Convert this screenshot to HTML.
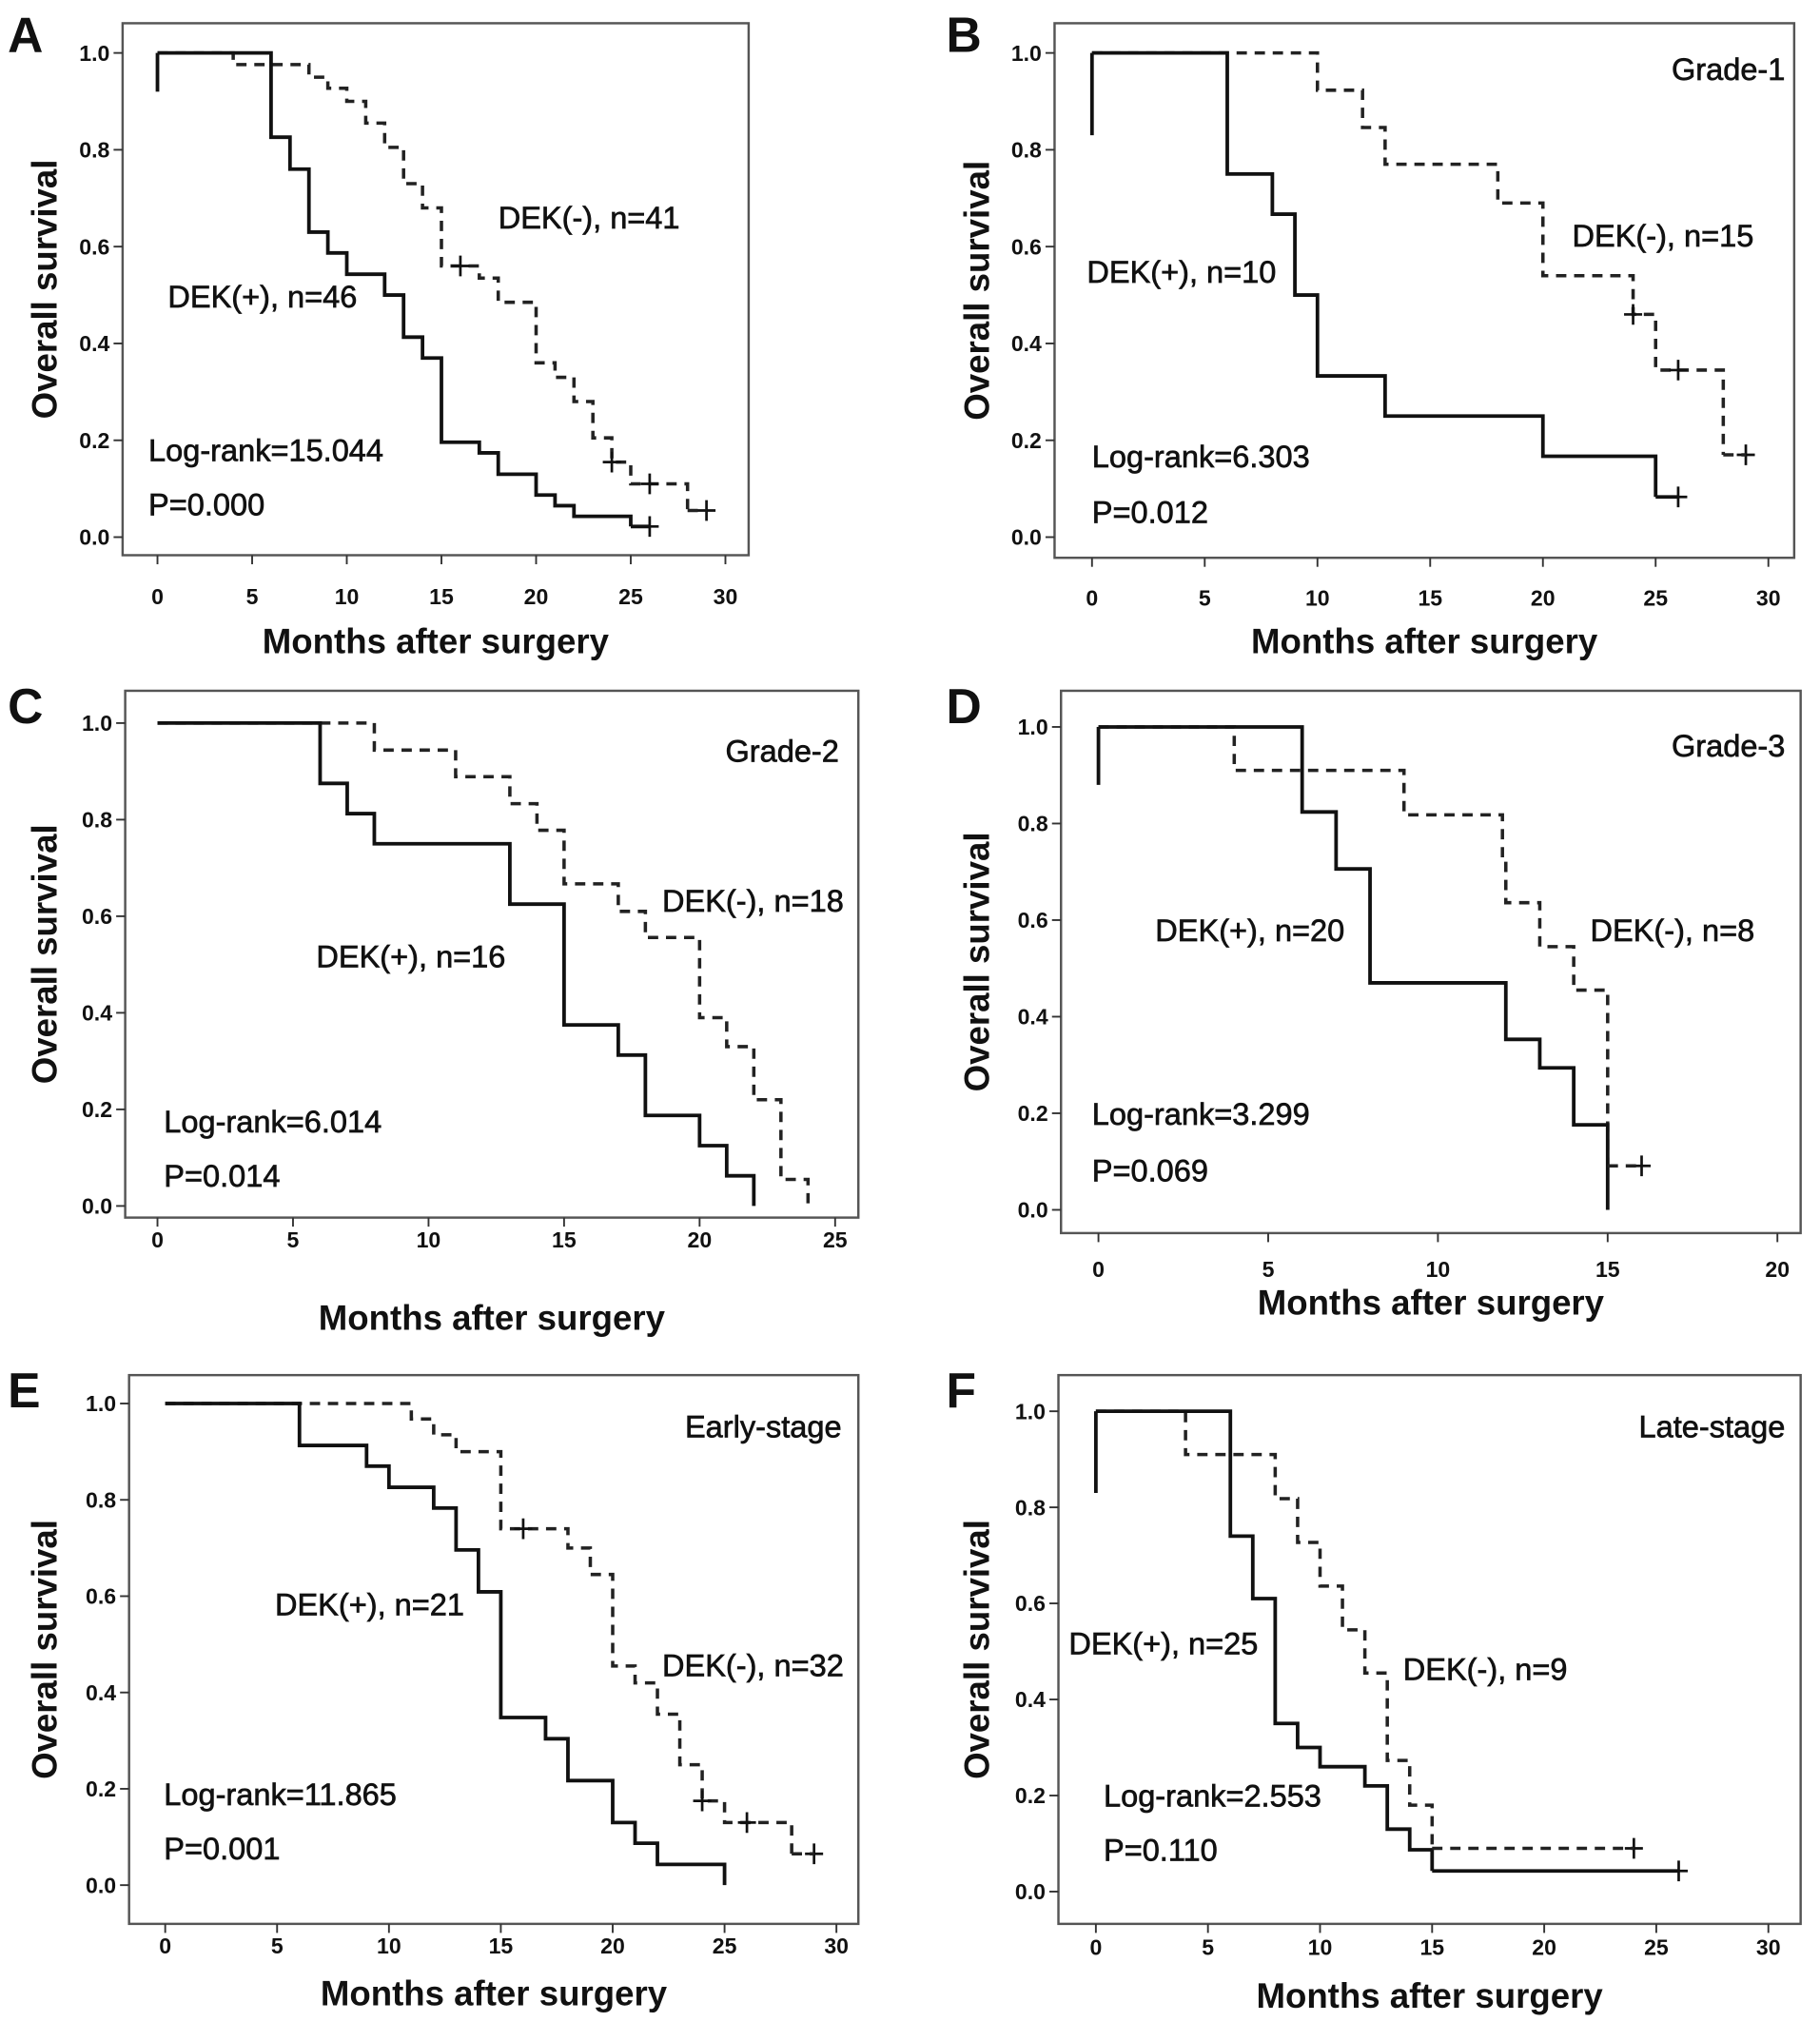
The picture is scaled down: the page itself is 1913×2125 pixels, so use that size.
<!DOCTYPE html>
<html><head><meta charset="utf-8"><style>
html,body{margin:0;padding:0;background:#fff}
svg{display:block}
text{font-family:"Liberation Sans",Arial,sans-serif;fill:#111}
</style></head><body>
<svg id="fig" width="1913" height="2125" viewBox="0 0 1410 1566" preserveAspectRatio="none"></svg>
<script>
// ---- data arrays (time in months, survival) ----
const aPosT=[0,6,7,8,9,10,12,13,14,15,17,18,20,21,22,25];
const aPosS=[1,0.826,0.76,0.63,0.587,0.543,0.5,0.413,0.37,0.196,0.174,0.13,0.087,0.065,0.043,0.022];
const aPosCT=[26], aPosCS=[0.022];
const aNegT=[0,4,8,9,10,11,12,13,14,15,17,18,20,21,22,23,24,25,28];
const aNegS=[1,0.976,0.95,0.927,0.9,0.855,0.805,0.73,0.68,0.56,0.535,0.485,0.36,0.33,0.28,0.205,0.155,0.11,0.055];
const aNegCT=[16,24,26,29], aNegCS=[0.56,0.155,0.11,0.055];

const bPosT=[0,6,8,9,10,13,20,25];
const bPosS=[1,0.75,0.667,0.5,0.333,0.25,0.167,0.083];
const bPosCT=[26], bPosCS=[0.083];
const bNegT=[0,10,12,13,18,20,24,25,28];
const bNegS=[1,0.923,0.846,0.77,0.69,0.54,0.46,0.345,0.17];
const bNegCT=[24,26,29], bNegCS=[0.46,0.345,0.17];

const cPosT=[0,6,7,8,13,15,17,18,20,21,22];
const cPosS=[1,0.875,0.8125,0.75,0.625,0.375,0.3125,0.1875,0.125,0.0625,0];
const cNegT=[0,8,11,13,14,15,17,18,20,21,22,23,24];
const cNegS=[1,0.944,0.889,0.833,0.778,0.667,0.61,0.556,0.39,0.33,0.22,0.055,0];

const dPosT=[0,6,7,8,12,13,14,15];
const dPosS=[1,0.824,0.706,0.47,0.353,0.294,0.176,0];
const dNegT=[0,4,9,11.9,12,13,14,15];
const dNegS=[1,0.91,0.818,0.727,0.636,0.545,0.455,0.091];
const dNegCT=[16], dNegCS=[0.091];

const ePosT=[0,6,9,10,12,13,14,15,17,18,20,21,22,25];
const ePosS=[1,0.913,0.87,0.826,0.783,0.696,0.609,0.348,0.304,0.217,0.13,0.087,0.043,0];
const eNegT=[0,11,12,13,15,18,19,20,21,22,23,24,25,28];
const eNegS=[1,0.968,0.935,0.9,0.74,0.70,0.645,0.455,0.42,0.355,0.25,0.175,0.13,0.065];
const eNegCT=[16,24,26,29], eNegCS=[0.74,0.175,0.13,0.065];

const fPosT=[0,6,7,8,9,10,12,13,14,15];
const fPosS=[1,0.74,0.61,0.35,0.30,0.26,0.22,0.13,0.087,0.043];
const fPosCT=[26], fPosCS=[0.043];
const fNegT=[0,4,8,9,10,11,12,13,14,15];
const fNegS=[1,0.91,0.818,0.727,0.636,0.545,0.455,0.273,0.18,0.09];
const fNegCT=[24], fNegCS=[0.09];

const xTicksA=[0,5,10,15,20,25,30];
const xTicksC=[0,5,10,15,20,25];
const xTicksD=[0,5,10,15,20];
const yTicks=[0,0.2,0.4,0.6,0.8,1.0];

const NS='http://www.w3.org/2000/svg';
const svg=document.getElementById('fig');
function mk(tag,attrs,parent){const e=document.createElementNS(NS,tag);for(const k in attrs)e.setAttribute(k,attrs[k]);(parent||svg).appendChild(e);return e;}
function txt(s,x,y,size,parent,anchor,weight){const t=mk('text',{x:x,y:y,'font-size':size,'text-anchor':anchor||'start','font-weight':weight||'normal'},parent);t.textContent=s;return t;}

function stepPath(T,S,sx,sy){let d='M'+sx(T[0])+','+sy(S[0]);for(let i=1;i<T.length;i++){d+=' H'+sx(T[i])+' V'+sy(S[i]);}return d;}
const DASH='8,6';

function panel(cfg){
  const g=mk('g',{});
  
  
  const sx=t=>cfg.x0+(t-0)*(cfg.x1-cfg.x0)/cfg.tmax;
  const sy=v=>cfg.y0+(1-v)*(cfg.y1-cfg.y0);
  const box=mk('rect',{x:cfg.bx,y:cfg.by,width:cfg.bw,height:cfg.bh,fill:'none',stroke:'#555','stroke-width':1.8},g);
  
  const L=txt(cfg.letter,cfg.lx,cfg.ly,38,g,'start','bold');
  
  cfg.xt.forEach(v=>{
    mk('line',{x1:sx(v),x2:sx(v),y1:cfg.by+cfg.bh,y2:cfg.by+cfg.bh+7,stroke:'#333','stroke-width':1.4},g);
    const t=txt(String(v),sx(v),cfg.tly,17,g,'middle','bold');
    t.setAttribute('fill','#333');
    
  });
  yTicks.forEach(v=>{
    mk('line',{x1:cfg.bx-7,x2:cfg.bx,y1:sy(v),y2:sy(v),stroke:'#333','stroke-width':1.4},g);
    const t=txt(v.toFixed(1),cfg.bx-10,sy(v)+6,17,g,'end','bold');
    t.setAttribute('fill','#333');
    
  });
  const xt=txt('Months after surgery',(cfg.bx+cfg.bw/2)+cfg.xtOff,cfg.xty,27,g,'middle','bold');
  
  const yt=txt('Overall survival',0,0,27,g,'middle','bold');
  yt.setAttribute('transform','translate('+cfg.ytx+','+(cfg.by+cfg.bh/2)+') rotate(-90)');
  
  const neg=mk('path',{d:stepPath(cfg.nT,cfg.nS,sx,sy),fill:'none',stroke:'#222','stroke-width':2.6,'stroke-dasharray':DASH},g);
  
  const pos=mk('path',{d:stepPath(cfg.pT,cfg.pS,sx,sy),fill:'none',stroke:'#111','stroke-width':2.8},g);
  
  if(cfg.startTick!=null){
    const st=mk('line',{x1:sx(0),x2:sx(0),y1:sy(1),y2:sy(cfg.startTick),stroke:'#111','stroke-width':2.8},g);
    
  }
  const cens=(T,S)=>T.forEach((t,i)=>{
    const cx=sx(t),cy=sy(S[i]);
    const c=mk('path',{d:'M'+(cx-7)+','+cy+' H'+(cx+7)+' M'+cx+','+(cy-8)+' V'+(cy+8),stroke:'#111','stroke-width':2,fill:'none'},g);
    
  });
  if(cfg.pCT)cens(cfg.pCT,cfg.pCS);
  if(cfg.nCT)cens(cfg.nCT,cfg.nCS);
  if(cfg.pCT){const t=cfg.pCT[cfg.pCT.length-1];mk('line',{x1:sx(cfg.pT[cfg.pT.length-1]),x2:sx(t),y1:sy(cfg.pS[cfg.pS.length-1]),y2:sy(cfg.pS[cfg.pS.length-1]),stroke:'#111','stroke-width':2.8},g);}
  if(cfg.nCT){const t=cfg.nCT[cfg.nCT.length-1];mk('line',{x1:sx(cfg.nT[cfg.nT.length-1]),x2:sx(t),y1:sy(cfg.nS[cfg.nS.length-1]),y2:sy(cfg.nS[cfg.nS.length-1]),stroke:'#222','stroke-width':2.6,'stroke-dasharray':DASH},g);}
  cfg.labels.forEach(l=>{
    const t=txt(l[0],l[1],l[2],24,g,l[3]||'start');
    t.setAttribute('stroke','#111');t.setAttribute('stroke-width','0.5');
    
  });
}

panel({letter:'A',lx:6,ly:40,bx:95,by:18,bw:485,bh:412,x0:122,x1:562,tmax:30,y0:41,y1:416,xt:xTicksA,tly:468,xty:506,xtOff:0,ytx:44,
 pT:aPosT,pS:aPosS,pCT:aPosCT,pCS:aPosCS,nT:aNegT,nS:aNegS,nCT:aNegCT,nCS:aNegCS,startTick:0.92,
 labels:[['DEK(-), n=41',386,177,'start','dek-negative-label'],['DEK(+), n=46',130,238,'start','dek-positive-label'],['Log-rank=15.044',115,357,'start','log-rank-label'],['P=0.000',115,399,'start','p-value-label']]});
panel({letter:'B',lx:733,ly:40,bx:817,by:18,bw:573,bh:414,x0:846,x1:1370,tmax:30,y0:41,y1:416,xt:xTicksA,tly:469,xty:506,xtOff:0,ytx:766,
 pT:bPosT,pS:bPosS,pCT:bPosCT,pCS:bPosCS,nT:bNegT,nS:bNegS,nCT:bNegCT,nCS:bNegCS,startTick:0.83,
 labels:[['Grade-1',1383,62,'end','subgroup-title'],['DEK(-), n=15',1218,191,'start','dek-negative-label'],['DEK(+), n=10',842,219,'start','dek-positive-label'],['Log-rank=6.303',846,362,'start','log-rank-label'],['P=0.012',846,405,'start','p-value-label']]});
panel({letter:'C',lx:6,ly:560,bx:97,by:535,bw:568,bh:408,x0:122,x1:647,tmax:25,y0:560,y1:934,xt:xTicksC,tly:966,xty:1030,xtOff:0,ytx:44,
 pT:cPosT,pS:cPosS,nT:cNegT,nS:cNegS,startTick:null,
 labels:[['Grade-2',650,590,'end','subgroup-title'],['DEK(-), n=18',513,706,'start','dek-negative-label'],['DEK(+), n=16',245,749,'start','dek-positive-label'],['Log-rank=6.014',127,877,'start','log-rank-label'],['P=0.014',127,919,'start','p-value-label']]});
panel({letter:'D',lx:733,ly:560,bx:822,by:535,bw:573,bh:420,x0:851,x1:1377,tmax:20,y0:563,y1:937,xt:xTicksD,tly:989,xty:1018,xtOff:0,ytx:766,
 pT:dPosT,pS:dPosS,nT:dNegT,nS:dNegS,nCT:dNegCT,nCS:dNegCS,startTick:0.88,
 labels:[['Grade-3',1383,586,'end','subgroup-title'],['DEK(+), n=20',895,729,'start','dek-positive-label'],['DEK(-), n=8',1232,729,'start','dek-negative-label'],['Log-rank=3.299',846,871,'start','log-rank-label'],['P=0.069',846,915,'start','p-value-label']]});
panel({letter:'E',lx:6,ly:1090,bx:100,by:1065,bw:565,bh:425,x0:128,x1:648,tmax:30,y0:1087,y1:1460,xt:xTicksA,tly:1513,xty:1553,xtOff:0,ytx:44,
 pT:ePosT,pS:ePosS,nT:eNegT,nS:eNegS,nCT:eNegCT,nCS:eNegCS,startTick:null,
 labels:[['Early-stage',652,1113,'end','subgroup-title'],['DEK(+), n=21',213,1251,'start','dek-positive-label'],['DEK(-), n=32',513,1298,'start','dek-negative-label'],['Log-rank=11.865',127,1398,'start','log-rank-label'],['P=0.001',127,1440,'start','p-value-label']]});
panel({letter:'F',lx:733,ly:1090,bx:820,by:1065,bw:575,bh:425,x0:849,x1:1370,tmax:30,y0:1093,y1:1465,xt:xTicksA,tly:1514,xty:1555,xtOff:0,ytx:766,
 pT:fPosT,pS:fPosS,pCT:fPosCT,pCS:fPosCS,nT:fNegT,nS:fNegS,nCT:fNegCT,nCS:fNegCS,startTick:0.83,
 labels:[['Late-stage',1383,1113,'end','subgroup-title'],['DEK(+), n=25',828,1281,'start','dek-positive-label'],['DEK(-), n=9',1087,1301,'start','dek-negative-label'],['Log-rank=2.553',855,1399,'start','log-rank-label'],['P=0.110',855,1441,'start','p-value-label']]});
</script>
</body></html>
